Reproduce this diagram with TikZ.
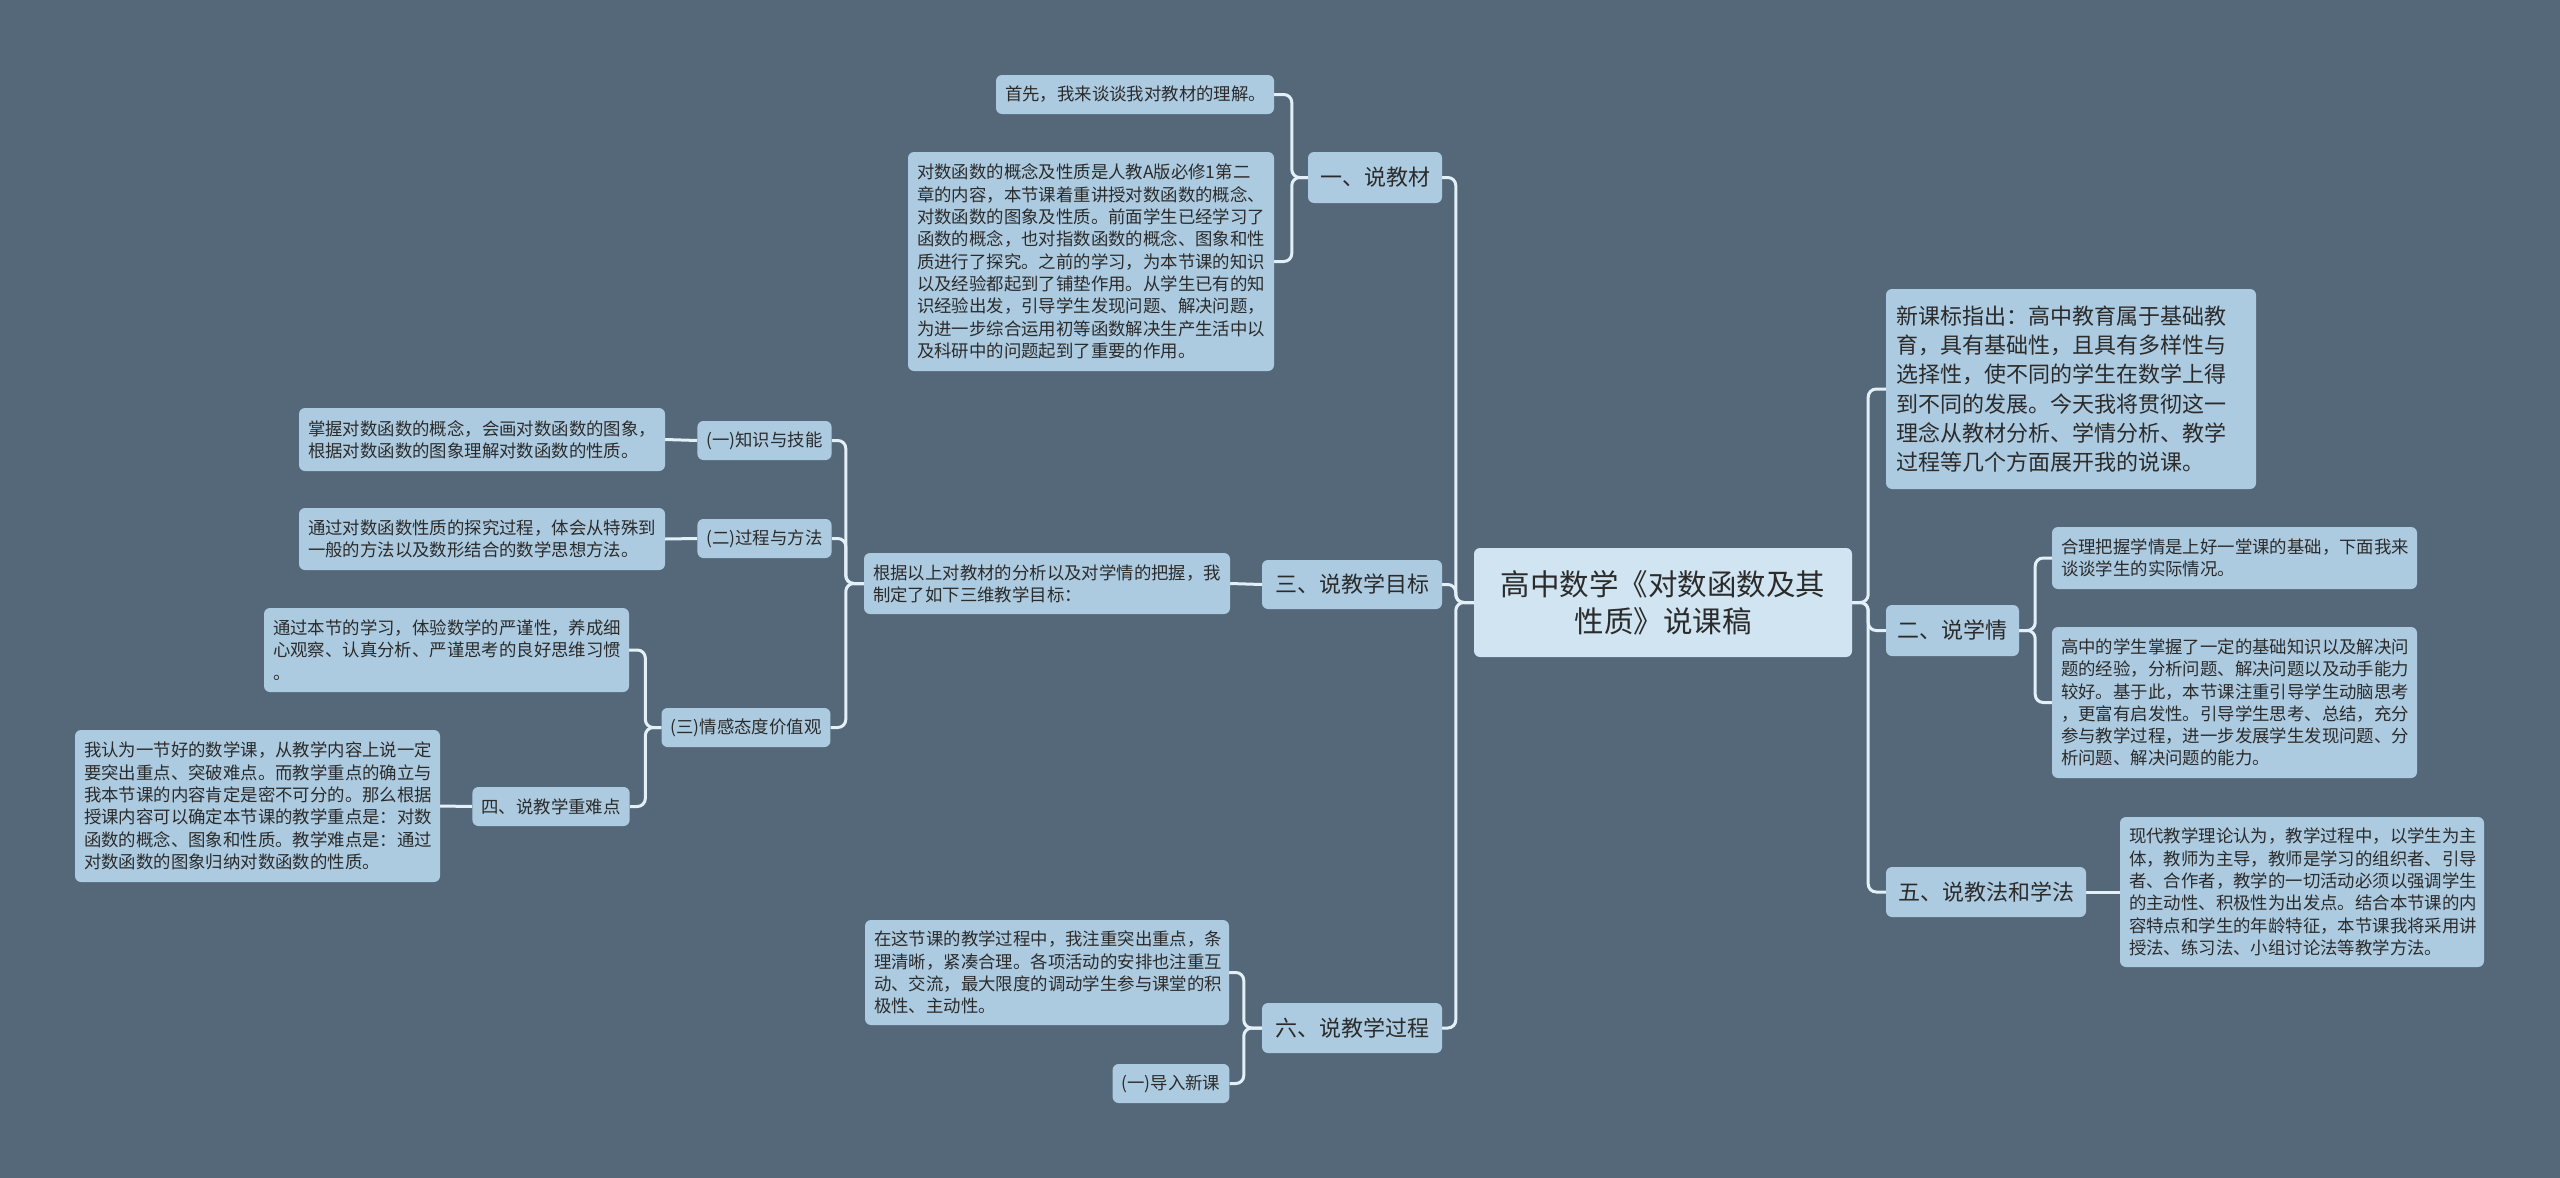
\documentclass[tikz,border=0pt]{standalone}
\usepackage{fontspec}
\setmainfont{Noto Sans CJK SC}
\pgfdeclarelayer{back}
\pgfdeclarelayer{links}
\pgfsetlayers{back,links,main}
\definecolor{bgc}{HTML}{546879}
\definecolor{boxc}{HTML}{ADCBE0}
\definecolor{rootc}{HTML}{D0E4F1}
\definecolor{linec}{HTML}{E3F0F8}
\definecolor{txtc}{HTML}{2B2B2B}
\tikzset{
  box/.style={fill=boxc, rounded corners=6pt, text=txtc, inner xsep=9pt, inner ysep=0pt,
    execute at begin node=\setlength{\parindent}{0pt}},
  sm/.style={box, font=\fontsize{17.4pt}{22.3pt}\selectfont},
  md/.style={box, font=\fontsize{22pt}{29.3pt}\selectfont},
  conn/.style={draw=linec, line width=3pt, rounded corners=8pt},
}
\begin{document}
\begin{tikzpicture}[x=1pt,y=-1pt]
\begin{pgfonlayer}{back}
\fill[bgc] (0,0) rectangle (2560,1178);
\end{pgfonlayer}
\useasboundingbox (0,0) rectangle (2560,1178);

% root
\node[box, fill=rootc, font=\fontsize{29.5pt}{37pt}\selectfont, align=center,
  minimum width=378pt, minimum height=109pt] (root) at (1663,602.5)
  {高中数学《对数函数及其\\性质》说课稿};

% left: 一
\node[md, minimum width=134pt, minimum height=51pt] (n1) at (1375,177.5) {一、说教材};
\node[sm, text width=260pt, minimum height=39pt, align=left] (n1a) at (1135,94.5)
  {首先，我来谈谈我对教材的理解。};
\node[sm, text width=348pt, minimum height=219pt, align=left] (n1b) at (1091,261.5)
  {对数函数的概念及性质是人教A版必修1第二\\
   章的内容，本节课着重讲授对数函数的概念、\\
   对数函数的图象及性质。前面学生已经学习了\\
   函数的概念，也对指数函数的概念、图象和性\\
   质进行了探究。之前的学习，为本节课的知识\\
   以及经验都起到了铺垫作用。从学生已有的知\\
   识经验出发，引导学生发现问题、解决问题，\\
   为进一步综合运用初等函数解决生产生活中以\\
   及科研中的问题起到了重要的作用。};

% left: 三
\node[md, minimum width=180pt, minimum height=49pt] (n3) at (1352,584.5) {三、说教学目标};
\node[sm, text width=348pt, minimum height=61pt, align=left] (n3a) at (1047,583.5)
  {根据以上对教材的分析以及对学情的把握，我\\制定了如下三维教学目标：};
\node[sm, minimum width=131pt, minimum height=39pt] (k1) at (764.5,440.5) {(一)知识与技能};
\node[sm, text width=348pt, minimum height=63pt, align=left] (k1a) at (482,439.5)
  {掌握对数函数的概念，会画对数函数的图象，\\根据对数函数的图象理解对数函数的性质。};
\node[sm, minimum width=131pt, minimum height=39pt] (k2) at (764.5,538.5) {(二)过程与方法};
\node[sm, text width=348pt, minimum height=62pt, align=left] (k2a) at (482,539)
  {通过对数函数性质的探究过程，体会从特殊到\\一般的方法以及数形结合的数学思想方法。};
\node[sm, minimum width=168pt, minimum height=39pt] (k3) at (746,727.5) {(三)情感态度价值观};
\node[sm, text width=347pt, minimum height=84pt, align=left] (k3a) at (446.5,650)
  {通过本节的学习，体验数学的严谨性，养成细\\心观察、认真分析、严谨思考的良好思维习惯\\。};
\node[sm, minimum width=156pt, minimum height=39pt] (n4) at (551,806.5) {四、说教学重难点};
\node[sm, text width=347pt, minimum height=152pt, align=left] (n4a) at (257.5,806)
  {我认为一节好的数学课，从教学内容上说一定\\
   要突出重点、突破难点。而教学重点的确立与\\
   我本节课的内容肯定是密不可分的。那么根据\\
   授课内容可以确定本节课的教学重点是：对数\\
   函数的概念、图象和性质。教学难点是：通过\\
   对数函数的图象归纳对数函数的性质。};

% left: 六
\node[md, minimum width=180pt, minimum height=50pt] (n6) at (1352,1028) {六、说教学过程};
\node[sm, text width=346pt, minimum height=105pt, align=left] (n6a) at (1047,972.5)
  {在这节课的教学过程中，我注重突出重点，条\\
   理清晰，紧凑合理。各项活动的安排也注重互\\
   动、交流，最大限度的调动学生参与课堂的积\\
   极性、主动性。};
\node[sm, minimum width=116pt, minimum height=39pt] (n6b) at (1171,1083.5) {(一)导入新课};

% right
\node[md, text width=350pt, inner xsep=10pt, minimum height=200pt, align=left] (intro) at (2071,389)
  {新课标指出：高中教育属于基础教\\
   育，具有基础性，且具有多样性与\\
   选择性，使不同的学生在数学上得\\
   到不同的发展。今天我将贯彻这一\\
   理念从教材分析、学情分析、教学\\
   过程等几个方面展开我的说课。};
\node[md, minimum width=133pt, minimum height=51pt] (n2) at (1952.5,630.5) {二、说学情};
\node[sm, text width=347pt, minimum height=62pt, align=left] (n2a) at (2234.5,558)
  {合理把握学情是上好一堂课的基础，下面我来\\谈谈学生的实际情况。};
\node[sm, text width=347pt, minimum height=151pt, align=left] (n2b) at (2234.5,702.5)
  {高中的学生掌握了一定的基础知识以及解决问\\
   题的经验，分析问题、解决问题以及动手能力\\
   较好。基于此，本节课注重引导学生动脑思考\\
   ，更富有启发性。引导学生思考、总结，充分\\
   参与教学过程，进一步发展学生发现问题、分\\
   析问题、解决问题的能力。};
\node[md, minimum width=200pt, minimum height=50pt] (n5) at (1986,892) {五、说教法和学法};
\node[sm, text width=346pt, minimum height=150pt, align=left] (n5a) at (2302,892)
  {现代教学理论认为，教学过程中，以学生为主\\
   体，教师为主导，教师是学习的组织者、引导\\
   者、合作者，教学的一切活动必须以强调学生\\
   的主动性、积极性为出发点。结合本节课的内\\
   容特点和学生的年龄特征，本节课我将采用讲\\
   授法、练习法、小组讨论法等教学方法。};

\begin{pgfonlayer}{links}
\draw[conn] (root.west) -- ++(-18,0) |- (n1.east);
\draw[conn] (root.west) -- ++(-18,0) |- (n3.east);
\draw[conn] (root.west) -- ++(-18,0) |- (n6.east);
\draw[conn] (root.east) -- ++(16,0) |- (intro.west);
\draw[conn] (root.east) -- ++(16,0) |- (n2.west);
\draw[conn] (root.east) -- ++(16,0) |- (n5.west);
\draw[conn] (n1.west) -- ++(-16,0) |- (n1a.east);
\draw[conn] (n1.west) -- ++(-16,0) |- (n1b.east);
\draw[conn] (n3.west) -- (n3a.east);
\draw[conn] (n3a.west) -- ++(-18,0) |- (k1.east);
\draw[conn] (n3a.west) -- ++(-18,0) |- (k2.east);
\draw[conn] (n3a.west) -- ++(-18,0) |- (k3.east);
\draw[conn] (k1.west) -- (k1a.east);
\draw[conn] (k2.west) -- (k2a.east);
\draw[conn] (k3.west) -- ++(-16,0) |- (k3a.east);
\draw[conn] (k3.west) -- ++(-16,0) |- (n4.east);
\draw[conn] (n4.west) -- (n4a.east);
\draw[conn] (n6.west) -- ++(-18,0) |- (n6a.east);
\draw[conn] (n6.west) -- ++(-18,0) |- (n6b.east);
\draw[conn] (n2.east) -- ++(16,0) |- (n2a.west);
\draw[conn] (n2.east) -- ++(16,0) |- (n2b.west);
\draw[conn] (n5.east) -- (n5a.west);
\end{pgfonlayer}
\end{tikzpicture}
\end{document}
